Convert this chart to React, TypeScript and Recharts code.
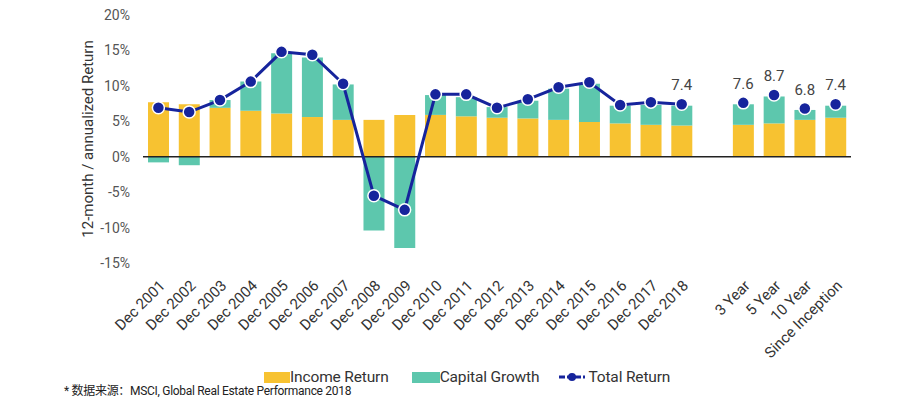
import { Bar, ComposedChart, LabelList, Line, ReferenceLine, XAxis, YAxis } from "recharts";

const CATEGORIES = [
  "Dec 2001", "Dec 2002", "Dec 2003", "Dec 2004", "Dec 2005", "Dec 2006",
  "Dec 2007", "Dec 2008", "Dec 2009", "Dec 2010", "Dec 2011", "Dec 2012",
  "Dec 2013", "Dec 2014", "Dec 2015", "Dec 2016", "Dec 2017", "Dec 2018",
  "", "3 Year", "5 Year", "10 Year", "Since Inception",
];

const INCOME = [7.7, 7.4, 6.9, 6.5, 6.1, 5.6, 5.2, 5.2, 5.9, 5.9, 5.7, 5.5, 5.4, 5.2, 4.9, 4.7, 4.5, 4.4, null, 4.5, 4.7, 5.2, 5.5];
const CAPITAL = [-0.8, -1.2, 1.1, 4.1, 8.5, 8.4, 5.0, -10.4, -12.9, 2.8, 2.7, 1.5, 2.5, 4.4, 5.4, 2.5, 2.8, 2.8, null, 2.9, 3.8, 1.4, 1.7];
const TOTAL_ANNUAL = [6.9, 6.3, 8.0, 10.6, 14.8, 14.4, 10.3, -5.5, -7.5, 8.8, 8.8, 6.9, 8.1, 9.8, 10.5, 7.3, 7.7, 7.4, null, null, null, null, null];
const TOTAL_PERIOD = [null, null, null, null, null, null, null, null, null, null, null, null, null, null, null, null, null, null, null, 7.6, 8.7, 6.8, 7.4];
const ANNUAL_LABEL = [null, null, null, null, null, null, null, null, null, null, null, null, null, null, null, null, null, 7.4, null, null, null, null, null];

const Y_TICKS = [-15, -10, -5, 0, 5, 10, 15, 20];

const YELLOW = "#F7C231";
const TEAL = "#5DC7AD";
const NAVY = "#16249C";
const FONT = "Roboto, 'Liberation Sans', sans-serif";
const SMALL = "Roboto, 'Noto Sans CJK SC', sans-serif";

const data = CATEGORIES.map((name, i) => ({
  name,
  income: INCOME[i],
  capital: CAPITAL[i],
  annual: TOTAL_ANNUAL[i],
  period: TOTAL_PERIOD[i],
  annualLabel: ANNUAL_LABEL[i],
}));

const labelStyle = { fill: "#444", fontSize: 15, fontFamily: FONT };

export default function App() {
  return (
    <div style={{ position: "absolute", left: 0, top: 0, width: 918, height: 400, background: "#fff" }}>
      <ComposedChart
        width={918}
        height={400}
        data={data}
        stackOffset="sign"
        margin={{ top: 15, right: 67, bottom: 0, left: 0 }}
      >
        <XAxis
          dataKey="name"
          interval={0}
          angle={-45}
          textAnchor="end"
          height={137}
          axisLine={false}
          tickLine={false}
          tickMargin={10}
          tick={{ fill: "#333", fontSize: 15, fontFamily: FONT }}
        />
        <YAxis
          width={143}
          domain={[-15, 20]}
          ticks={Y_TICKS}
          axisLine={false}
          tickLine={false}
          tickMargin={7}
          tickFormatter={(v) => `${v}%`}
          tick={{ fill: "#555", fontSize: 14, fontFamily: FONT }}
          label={({ viewBox }: any) => {
            const cx = 88;
            const cy = viewBox.y + viewBox.height / 2;
            return (
              <text
                x={cx}
                y={cy}
                transform={`rotate(-90 ${cx} ${cy})`}
                textAnchor="middle"
                dominantBaseline="central"
                fill="#333"
                fontSize={15}
                fontFamily={FONT}
              >
                12-month / annualized Return
              </text>
            );
          }}
        />
        <Bar dataKey="income" stackId="a" fill={YELLOW} barSize={21} isAnimationActive={false} />
        <Bar dataKey="capital" stackId="a" fill={TEAL} barSize={21} isAnimationActive={false} />
        <ReferenceLine y={0} stroke="#222" strokeWidth={1.5} />
        <Line
          dataKey="annual"
          stroke={NAVY}
          strokeWidth={3}
          connectNulls={false}
          dot={{ r: 6, fill: NAVY, stroke: "#fff", strokeWidth: 1.5 }}
          isAnimationActive={false}
        >
          <LabelList dataKey="annualLabel" position="top" offset={14} style={labelStyle} />
        </Line>
        <Line
          dataKey="period"
          stroke="none"
          dot={{ r: 6, fill: NAVY, stroke: "#fff", strokeWidth: 1.5 }}
          isAnimationActive={false}
        >
          <LabelList dataKey="period" position="top" offset={14} style={labelStyle} />
        </Line>
      </ComposedChart>

      <div
        style={{
          position: "absolute",
          left: 264,
          top: 368,
          display: "flex",
          alignItems: "center",
          fontFamily: FONT,
          fontSize: 15.5,
          letterSpacing: -0.15,
          lineHeight: "18px",
          color: "#333",
          whiteSpace: "nowrap",
        }}
      >
        <span style={{ display: "inline-block", width: 26, height: 11, background: YELLOW }} />
        <span style={{ marginRight: 23 }}>Income Return</span>
        <span style={{ display: "inline-block", width: 28, height: 11, background: TEAL }} />
        <span style={{ marginRight: 19 }}>Capital Growth</span>
        <svg width={28} height={12} style={{ marginRight: 2 }}>
          <line x1={1} y1={6} x2={27} y2={6} stroke={NAVY} strokeWidth={3} strokeDasharray="6 2" />
          <circle cx={14} cy={6} r={4} fill={NAVY} />
        </svg>
        <span>Total Return</span>
      </div>

      <div
        style={{
          position: "absolute",
          left: 64,
          top: 385,
          fontFamily: SMALL,
          fontSize: 12,
          letterSpacing: -0.3,
          lineHeight: "13px",
          color: "#222",
          whiteSpace: "nowrap",
        }}
      >
        * 数据来源：MSCI, Global Real Estate Performance 2018
      </div>
    </div>
  );
}
